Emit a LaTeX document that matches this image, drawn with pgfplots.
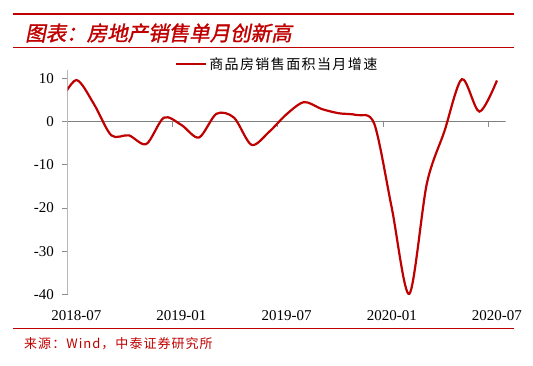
\documentclass[border=0pt]{standalone}
\usepackage{fontspec}
\setmainfont{Liberation Serif}
\newfontfamily\cjk{Noto Sans CJK SC}
\newfontfamily\cjkls[LetterSpace=10]{Noto Sans CJK SC}
\newfontfamily\cjksrc[LetterSpace=8]{Noto Sans CJK SC}
\newfontfamily\cjkit[FakeSlant=0.2,FakeBold=1.5]{Noto Sans CJK SC}
\usepackage{pgfplots}
\pgfplotsset{compat=1.18}
\definecolor{zred}{HTML}{C00000}
\definecolor{lred}{HTML}{C00000}
\begin{document}
\begin{tikzpicture}
\path[use as bounding box,fill=white] (0pt,0pt) rectangle (533pt,366pt);
\draw[zred,line width=2.4pt] (13pt,352pt) -- (514pt,352pt);
\draw[zred,line width=0.8pt] (13pt,319pt) -- (514pt,319pt);
\draw[zred,line width=0.8pt] (13pt,38pt) -- (514pt,38pt);
\node[anchor=west,inner sep=0pt,text=zred] at (25pt,333pt) {\cjkit\fontsize{20.5}{21}\selectfont 图表：房地产销售单月创新高};
\node[anchor=west,inner sep=0pt,text=zred] at (24pt,22pt) {\cjksrc\fontsize{13}{14}\selectfont 来源：Wind，中泰证券研究所};
\begin{axis}[
  at={(67.5pt,71.7pt)}, anchor=south west,
  scale only axis, width=438.2pt, height=224.6pt,
  xmin=0, xmax=25, ymin=-40, ymax=12,
  axis y line*=left, axis x line*=bottom,
  x axis line style={draw=none},
  y axis line style={draw=black!28,line width=1.4pt},
  ytick={-40,-30,-20,-10,0,10},
  ytick style={draw=black!45,line width=0.8pt},
  tick align=outside, major tick length=5pt,
  xtick={0.5,6.5,12.5,18.5,24.5},
  xticklabels={2018-07,2019-01,2019-07,2020-01,2020-07},
  xtick style={draw=none},
  tick label style={font=\fontsize{15}{15}\selectfont},
  xticklabel style={yshift=-8pt},
  yticklabel style={xshift=-5pt},
  /pgf/number format/assume math mode=true,
  legend style={at={(0.245,1.025)}, anchor=west, draw=none, fill=none,
    inner sep=0pt, font=\cjkls\fontsize{14}{14}\selectfont,
    nodes={inner sep=2pt}},
  legend image code/.code={\draw[#1] (0pt,0pt) -- (30pt,0pt);},
  clip=true,
]
\draw[black!50,line width=0.9pt] (axis cs:0,0) -- (axis cs:25,0);
\pgfplotsinvokeforeach{6,12,18,24}{\draw[black!45,line width=0.8pt] (axis cs:#1,0) -- ([yshift=-5pt]axis cs:#1,0);}
\addplot[lred, line width=2.2pt, smooth, tension=0.5] coordinates {
(-0.5,4.0) (0.5,9.6) (1.5,4.1) (2.5,-3.2) (3.5,-3.2) (4.5,-5.2)
(5.5,0.9) (6.5,-0.8) (7.5,-3.7) (8.5,1.8) (9.5,0.9) (10.5,-5.4)
(11.5,-2.4) (12.5,1.7) (13.5,4.5) (14.5,2.9) (15.5,1.9) (16.5,1.5)
(17.5,-0.5) (18.5,-20.0) (19.5,-39.9) (20.5,-14.4) (21.5,-2.3)
(22.5,9.8) (23.5,2.3) (24.5,9.5)
};
\addlegendentry{商品房销售面积当月增速}
\end{axis}
\end{tikzpicture}
\end{document}
